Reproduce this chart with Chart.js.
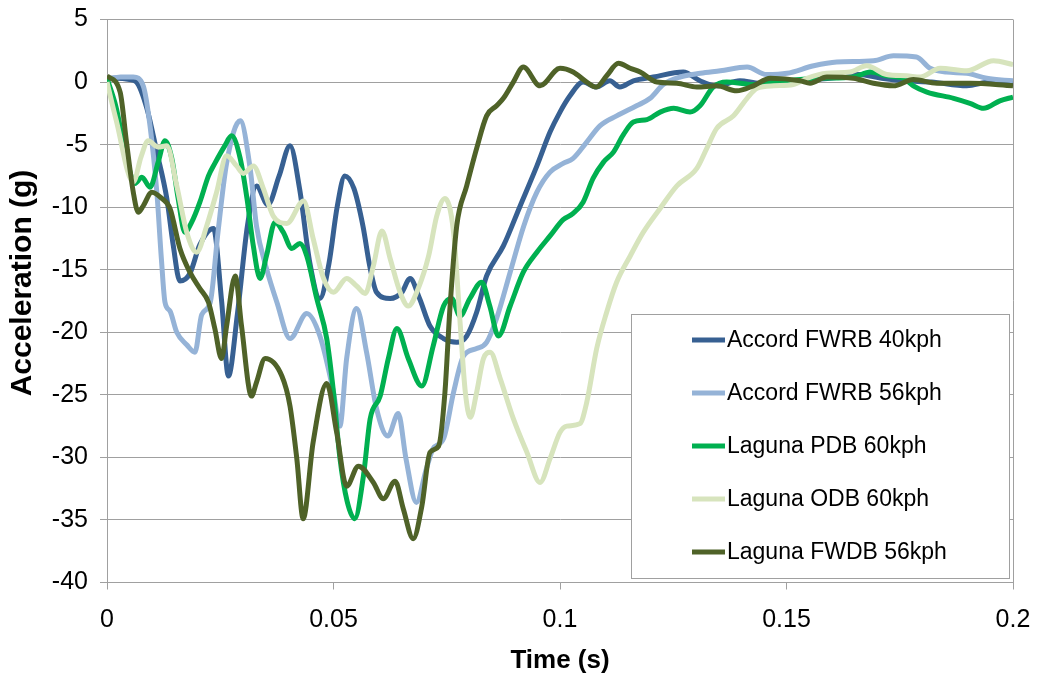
<!DOCTYPE html>
<html>
<head>
<meta charset="UTF-8">
<title>Acceleration vs Time</title>
<script src="https://cdn.jsdelivr.net/npm/chart.js@4.4.1/dist/chart.umd.min.js"></script>
<style>
   body { margin: 0; background: #fff; }
   #wrap { width: 1038px; height: 682px; position: relative; }
</style>
</head>
<body>
<div id="wrap"><canvas id="chart"></canvas></div>
<script>
   // series names, in drawing order (later ones sit on top)
   const seriesNames = [
      "Accord FWRB 40kph",
      "Accord FWRB 56kph",
      "Laguna PDB 60kph",
      "Laguna ODB 60kph",
      "Laguna FWDB 56kph"
   ];
   const seriesColors = ["#376092", "#95B3D7", "#00B050", "#D7E4BD", "#4F6228"];

   // time (s) / acceleration (g)
   const accord40Time = [0, 0.002, 0.005, 0.0065, 0.0088, 0.011, 0.0132, 0.0146, 0.0161, 0.0183, 0.0205, 0.0235, 0.0253, 0.0268, 0.0288, 0.031, 0.033, 0.0355, 0.038, 0.0404, 0.0425, 0.0448, 0.047, 0.049, 0.0508, 0.0525, 0.0545, 0.0565, 0.058, 0.0595, 0.0625, 0.0651, 0.0669, 0.069, 0.0713, 0.0743, 0.0772, 0.0794, 0.0816, 0.0838, 0.0875, 0.0912, 0.0949, 0.0978, 0.1, 0.1022, 0.1051, 0.108, 0.111, 0.1132, 0.1162, 0.1206, 0.1272, 0.1309, 0.1346, 0.1397, 0.1441, 0.15, 0.156, 0.162, 0.166, 0.171, 0.176, 0.182, 0.1898, 0.195, 0.2];
   const accord40Accel = [0.3, 0.3, 0.2, 0, -2.1, -5.6, -9.3, -13, -15.9, -15.3, -13, -11.7, -17.5, -23.5, -18.5, -11.5, -8.3, -9.8, -7.5, -5.1, -8.5, -14.5, -17.3, -14.5, -10, -7.5, -8.5, -11.5, -14.7, -16.8, -17.3, -16.8, -15.7, -17.3, -19.5, -20.5, -20.8, -20.3, -18.4, -15.5, -13.1, -9.9, -6.7, -4, -2.4, -1.1, 0, -0.4, 0.1, -0.4, 0.1, 0.4, 0.8, 0.1, -0.3, 0.1, -0.1, 0.1, 0.2, 0.4, 0.6, 0.3, 0.1, 0, -0.3, 0, -0.1];

   const accord56Time = [0, 0.003, 0.0058, 0.008, 0.0095, 0.011, 0.012, 0.0128, 0.0139, 0.0154, 0.0176, 0.0194, 0.0209, 0.0228, 0.0245, 0.0264, 0.0294, 0.0316, 0.033, 0.0352, 0.0375, 0.0404, 0.0441, 0.047, 0.05, 0.0514, 0.0529, 0.0551, 0.0573, 0.0595, 0.062, 0.0643, 0.066, 0.0683, 0.0705, 0.072, 0.0743, 0.0765, 0.0787, 0.0816, 0.0838, 0.086, 0.089, 0.092, 0.0949, 0.0978, 0.1007, 0.1029, 0.1059, 0.1088, 0.1125, 0.1169, 0.1199, 0.1228, 0.1265, 0.131, 0.1354, 0.1413, 0.1456, 0.1501, 0.156, 0.1611, 0.1692, 0.1736, 0.1787, 0.1817, 0.1853, 0.1898, 0.1942, 0.2];
   const accord56Accel = [0.2, 0.4, 0.4, -0.3, -3.5, -8.8, -14.1, -17.6, -18.3, -20, -21, -21.6, -18.6, -17.6, -12, -6.5, -3.1, -6.9, -11.5, -14.9, -17.6, -20.5, -18.5, -20.3, -24.8, -27.5, -22.1, -18.1, -21.6, -26.1, -28.3, -26.5, -30.1, -33.6, -30.9, -29.3, -28.5, -24.8, -21.9, -21.3, -20.8, -18.9, -15.2, -11.5, -8.8, -7.2, -6.5, -6.1, -4.8, -3.5, -2.7, -1.9, -1.3, -0.2, 0.4, 0.7, 0.9, 1.2, 0.6, 0.7, 1.3, 1.6, 1.7, 2.1, 2, 1.1, 0.8, 0.7, 0.3, 0.1];

   const pdbTime = [0, 0.002, 0.004, 0.0062, 0.0077, 0.0095, 0.0113, 0.0128, 0.0143, 0.0157, 0.0172, 0.0187, 0.0205, 0.0224, 0.0238, 0.026, 0.0275, 0.0294, 0.0309, 0.0323, 0.0338, 0.0352, 0.0371, 0.0389, 0.0408, 0.0426, 0.0441, 0.0463, 0.0485, 0.05, 0.0514, 0.053, 0.0547, 0.0566, 0.0581, 0.0603, 0.0621, 0.064, 0.0665, 0.0695, 0.072, 0.0743, 0.0761, 0.0779, 0.0801, 0.0827, 0.0845, 0.0864, 0.089, 0.0919, 0.0949, 0.0978, 0.1007, 0.1029, 0.1051, 0.1073, 0.1096, 0.1118, 0.114, 0.1162, 0.1192, 0.1221, 0.1251, 0.1287, 0.1309, 0.1338, 0.1368, 0.1427, 0.15, 0.1574, 0.1648, 0.1685, 0.1721, 0.1758, 0.178, 0.181, 0.1869, 0.1905, 0.1935, 0.1971, 0.2];
   const pdbAccel = [0.3, -2, -5.5, -8.1, -7.6, -8.4, -6.4, -4.7, -6.1, -9.3, -12, -11.2, -9.6, -7.5, -6.5, -5.1, -4.3, -6.1, -9.3, -13.1, -15.7, -13.9, -11.2, -12, -13.3, -12.9, -13.9, -17.3, -20.5, -24.8, -30, -33.5, -34.9, -31.5, -26.9, -25.1, -22.1, -19.7, -22.1, -24.3, -21.1, -17.9, -17.3, -18.7, -17.3, -16, -17.9, -20.3, -17.9, -15.2, -13.6, -12.3, -11, -10.5, -9.6, -7.7, -6.4, -5.6, -4.2, -3.2, -3, -2.4, -2.1, -2.4, -1.9, -0.4, 0, -0.2, 0.1, 0.3, 0.4, 0.8, 0.5, 0.3, -0.3, -0.8, -1.3, -1.7, -2.1, -1.5, -1.2];

   const odbTime = [0, 0.002, 0.0058, 0.0075, 0.0091, 0.0113, 0.0132, 0.0154, 0.0176, 0.0198, 0.022, 0.0242, 0.0264, 0.0286, 0.0301, 0.0323, 0.0345, 0.0367, 0.0397, 0.0434, 0.0455, 0.0478, 0.05, 0.0529, 0.0551, 0.057, 0.0588, 0.0607, 0.0625, 0.0647, 0.0665, 0.0687, 0.071, 0.0728, 0.0746, 0.0765, 0.078, 0.0791, 0.0802, 0.0816, 0.0831, 0.0846, 0.0868, 0.0897, 0.0927, 0.0956, 0.0978, 0.1, 0.1015, 0.1044, 0.1059, 0.1081, 0.1103, 0.1125, 0.1155, 0.1184, 0.1221, 0.1258, 0.1302, 0.1324, 0.1346, 0.1383, 0.1413, 0.1435, 0.1472, 0.1515, 0.1545, 0.1589, 0.164, 0.1677, 0.1721, 0.1765, 0.1795, 0.1839, 0.1898, 0.1957, 0.2];
   const odbAccel = [0, -3, -8, -6, -4.7, -5.2, -5.1, -8.3, -12, -13.6, -11.5, -8.8, -5.9, -6.7, -7.3, -6.7, -8.5, -10.7, -11.3, -9.5, -12.5, -15.7, -16.8, -15.7, -16.3, -16.9, -14.7, -11.9, -14.1, -16.8, -17.9, -16.5, -13.9, -10.7, -9.3, -12, -19.5, -24.8, -26.8, -24.8, -22.1, -21.6, -23.7, -26.9, -29.6, -32, -30.1, -28, -27.5, -27.3, -25.6, -21.3, -18.4, -16, -13.9, -12, -10.1, -8.3, -6.9, -5.3, -3.7, -2.7, -1.3, -0.5, -0.3, -0.2, 0.3, 0.7, 0.8, 1.3, 0.6, 0.5, 0.4, 1.1, 0.9, 1.7, 1.4];

   const fwdbTime = [0, 0.0029, 0.0043, 0.0058, 0.0069, 0.008, 0.0099, 0.0121, 0.0139, 0.0161, 0.0183, 0.0205, 0.0224, 0.0238, 0.0253, 0.0264, 0.0283, 0.0297, 0.0319, 0.033, 0.0349, 0.0386, 0.0404, 0.0419, 0.0433, 0.0455, 0.0485, 0.0507, 0.0529, 0.0555, 0.0588, 0.061, 0.0636, 0.0654, 0.0676, 0.0695, 0.0713, 0.0732, 0.0746, 0.0757, 0.0772, 0.0794, 0.0816, 0.0838, 0.086, 0.0875, 0.0897, 0.0919, 0.0956, 0.1, 0.1029, 0.1059, 0.108, 0.1103, 0.1129, 0.1155, 0.1177, 0.1214, 0.1258, 0.1302, 0.1346, 0.139, 0.1427, 0.1464, 0.153, 0.1552, 0.1589, 0.1648, 0.1692, 0.1736, 0.178, 0.1832, 0.1905, 0.2];
   const fwdbAccel = [0.5, -0.8, -4.8, -8.8, -10.4, -9.9, -8.8, -9.3, -10.1, -13.3, -15.2, -16.5, -17.6, -19.7, -22.1, -19.5, -15.5, -19.5, -25.1, -24, -22.1, -23.5, -25.9, -30.1, -34.9, -28.8, -24.1, -28, -32.3, -30.7, -32, -33.3, -31.9, -34.1, -36.5, -33.9, -29.6, -29.1, -24.8, -18.1, -11.5, -8.3, -5.3, -2.7, -1.9, -1.3, 0, 1.2, -0.3, 1.1, 0.8, 0, -0.4, 0.5, 1.5, 1.1, 0.8, 0, -0.1, -0.4, -0.3, -0.7, -0.3, 0.3, 0.1, -0.1, 0.4, 0.3, -0.1, -0.3, 0.2, -0.1, -0.1, -0.3];

   const timeTicks = [0, 0.05, 0.1, 0.15, 0.2];
   const yTitle = "Acceleration (g)";
   const xTitle = "Time (s)";

   const seriesTimes = [accord40Time, accord56Time, pdbTime, odbTime, fwdbTime];
   const seriesAccels = [accord40Accel, accord56Accel, pdbAccel, odbAccel, fwdbAccel];

   const FONT = '"Liberation Sans", Arial, sans-serif';
   const gridGray = "#a0a0a0";
   Chart.defaults.font.family = FONT;

   const datasets = seriesNames.map((name, i) => ({
      label: name,
      data: seriesTimes[i].map((t, j) => ({ x: t, y: seriesAccels[i][j] })),
      borderColor: seriesColors[i],
      backgroundColor: seriesColors[i],
      borderWidth: 5,
      pointRadius: 0,
      cubicInterpolationMode: "monotone",
      fill: false,
      // later series drawn over earlier ones, like the original
      order: seriesNames.length - i
   }));

   // legend box inside the plot (bottom right) + the rotated y title,
   // which sits a little above the plot's middle in the original
   const extras = {
      id: "extras",
      afterDraw(chart) {
         const ctx = chart.ctx;
         ctx.save();
         ctx.fillStyle = "#fff";
         ctx.fillRect(631, 314, 379, 265);
         ctx.strokeStyle = gridGray;
         ctx.lineWidth = 1;
         ctx.strokeRect(631.5, 314.5, 378, 264);
         ctx.font = "23px " + FONT;
         ctx.textBaseline = "middle";
         ctx.textAlign = "left";
         chart.data.datasets.forEach((ds, i) => {
            const y = 340 + i * 53;
            ctx.strokeStyle = ds.borderColor;
            ctx.lineWidth = 5;
            ctx.beginPath();
            ctx.moveTo(692, y);
            ctx.lineTo(725, y);
            ctx.stroke();
            ctx.fillStyle = "#000";
            ctx.fillText(ds.label, 727, y + 1);
         });

         ctx.translate(23, 283);
         ctx.rotate(-Math.PI / 2);
         ctx.textAlign = "center";
         ctx.font = "bold 30px " + FONT;
         ctx.fillText(yTitle, 0, 0);
         ctx.restore();
      }
   };

   new Chart(document.getElementById("chart"), {
      type: "line",
      data: { datasets },
      plugins: [extras],
      options: {
         responsive: true,
         maintainAspectRatio: false,
         animation: false,
         layout: { padding: { left: 0, right: 25, top: 19.5, bottom: 0 } },
         plugins: { legend: { display: false }, tooltip: { enabled: false } },
         scales: {
            x: {
               type: "linear",
               min: 0,
               max: 0.2,
               afterBuildTicks: s => { s.ticks = timeTicks.map(v => ({ value: v })); },
               afterFit: s => { s.height = 99.5; s.paddingLeft = 0; s.paddingRight = 0; },
               ticks: {
                  color: "#000",
                  font: { size: 25 },
                  padding: 16,
                  maxRotation: 0,
                  callback: v => String(v)
               },
               grid: {
                  color: c => (c.tick && c.tick.value === 0.2 ? gridGray : "rgba(0,0,0,0)"),
                  tickColor: gridGray,
                  tickLength: 7
               },
               border: { color: gridGray },
               title: {
                  display: true,
                  text: xTitle,
                  color: "#000",
                  font: { size: 26, weight: "bold" },
                  padding: { top: 0, bottom: 6 }
               }
            },
            y: {
               min: -40,
               max: 5,
               afterFit: s => { s.width = 107; s.paddingTop = 0; s.paddingBottom = 0; },
               ticks: {
                  stepSize: 5,
                  color: "#000",
                  font: { size: 25 },
                  padding: 12
               },
               grid: { color: gridGray, tickColor: gridGray, tickLength: 7 },
               border: { color: gridGray }
            }
         }
      }
   });
</script>
</body>
</html>
